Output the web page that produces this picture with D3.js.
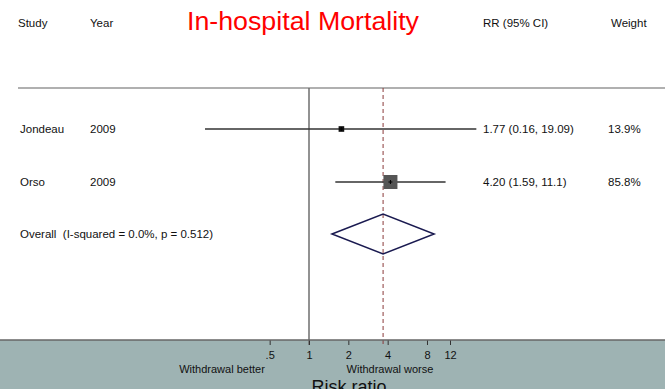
<!DOCTYPE html>
<html>
<head>
<meta charset="utf-8">
<script src="https://cdn.jsdelivr.net/npm/d3@7"></script>
<style>
  body { margin: 0; background: #fff; }
  text { font-family: "Liberation Sans", Arial, sans-serif; white-space: pre; }
</style>
</head>
<body>
<svg id="chart" width="665" height="389"></svg>
<script>
var studies = ["Jondeau", "Orso"];
var years = ["2009", "2009"];
var rr = [1.77, 4.20];
var lower = [0.16, 1.59];
var upper = [19.09, 11.1];
var weights = [13.9, 85.8];
var rrLabels = ["1.77 (0.16, 19.09)", "4.20 (1.59, 11.1)"];
var overall = { rr: 3.69, lower: 1.50, upper: 9.07 };
var overallLabel = "Overall  (I-squared = 0.0%, p = 0.512)";
var tickValues = [0.5, 1, 2, 4, 8, 12];
var tickLabels = [".5", "1", "2", "4", "8", "12"];

var width = 665, height = 389;
var svg = d3.select("#chart");

var x = d3.scaleLog().domain([1, 12]).range([309, 450]);
var rowY = [129, 182, 234];
var plotTop = 88, axisY = 340;
var fs = 11.5;

// bottom band
svg.append("rect")
  .attr("x", 0).attr("y", axisY)
  .attr("width", width).attr("height", height - axisY)
  .attr("fill", "#9eb3b3");

// top rule
svg.append("line")
  .attr("x1", 18).attr("x2", width)
  .attr("y1", plotTop).attr("y2", plotTop)
  .attr("stroke", "#b0b0b0").attr("stroke-width", 2);

// header
var header = [["Study", 18], ["Year", 90], ["RR (95% CI)", 483], ["Weight", 611]];
svg.selectAll(".hdr").data(header).enter().append("text")
  .attr("x", function(d){ return d[1]; })
  .attr("y", 27)
  .attr("font-size", fs)
  .attr("fill", "#111")
  .text(function(d){ return d[0]; });

svg.append("text")
  .attr("x", 187).attr("y", 30)
  .attr("font-size", 26)
  .attr("fill", "#ff0000")
  .attr("textLength", 232)
  .attr("lengthAdjust", "spacingAndGlyphs")
  .text("In-hospital Mortality");

// null line
svg.append("line")
  .attr("x1", x(1)).attr("x2", x(1))
  .attr("y1", plotTop).attr("y2", axisY + 5)
  .attr("stroke", "#6e6e6e").attr("stroke-width", 1.5);

// overall dashed line
svg.append("line")
  .attr("x1", x(overall.rr)).attr("x2", x(overall.rr))
  .attr("y1", plotTop).attr("y2", axisY + 5)
  .attr("stroke", "#8a3a3a").attr("stroke-width", 1)
  .attr("stroke-dasharray", "4,3");

// studies
var rows = svg.selectAll(".row").data(studies).enter().append("g")
  .attr("class", "row");

rows.append("text").attr("x", 20).attr("y", function(d, i){ return rowY[i] + 4; })
  .attr("font-size", fs).attr("fill", "#111").text(function(d){ return d; });
rows.append("text").attr("x", 90).attr("y", function(d, i){ return rowY[i] + 4; })
  .attr("font-size", fs).attr("fill", "#111").text(function(d, i){ return years[i]; });
rows.append("text").attr("x", 483).attr("y", function(d, i){ return rowY[i] + 4; })
  .attr("font-size", fs).attr("fill", "#111").text(function(d, i){ return rrLabels[i]; });
rows.append("text").attr("x", 608).attr("y", function(d, i){ return rowY[i] + 4; })
  .attr("font-size", fs).attr("fill", "#111").text(function(d, i){ return weights[i].toFixed(1) + "%"; });

rows.append("line")
  .attr("x1", function(d, i){ return x(lower[i]); })
  .attr("x2", function(d, i){ return x(upper[i]); })
  .attr("y1", function(d, i){ return rowY[i]; })
  .attr("y2", function(d, i){ return rowY[i]; })
  .attr("stroke", "#333").attr("stroke-width", 1.5);

var boxSize = d3.scaleSqrt().domain([0, 85.8]).range([0, 14]);
rows.append("rect")
  .attr("x", function(d, i){ return x(rr[i]) - Math.max(4, boxSize(weights[i])) / 2; })
  .attr("y", function(d, i){ return rowY[i] - Math.max(4, boxSize(weights[i])) / 2; })
  .attr("width", function(d, i){ return Math.max(4, boxSize(weights[i])); })
  .attr("height", function(d, i){ return Math.max(4, boxSize(weights[i])); })
  .attr("fill", function(d, i){ return i === 0 ? "#111" : "#555"; });

rows.append("path")
  .attr("d", function(d, i){
    var cx = x(rr[i]), cy = rowY[i];
    return "M" + (cx - 2) + "," + cy + "H" + (cx + 2) + "M" + cx + "," + (cy - 2) + "V" + (cy + 2);
  })
  .attr("stroke", "#000").attr("stroke-width", 1);

// overall
svg.append("text").attr("x", 20).attr("y", rowY[2] + 4)
  .attr("font-size", fs).attr("fill", "#111").text(overallLabel);

var oy = rowY[2];
svg.append("path")
  .attr("d", "M" + x(overall.lower) + "," + oy +
    "L" + x(overall.rr) + "," + (oy - 20) +
    "L" + x(overall.upper) + "," + oy +
    "L" + x(overall.rr) + "," + (oy + 20) + "Z")
  .attr("fill", "none").attr("stroke", "#1a1a50").attr("stroke-width", 1.5);

// axis
var axis = d3.axisBottom(x).tickValues(tickValues)
  .tickFormat(function(d, i){ return tickLabels[i]; })
  .tickSize(5).tickPadding(6);
var ax = svg.append("g").attr("transform", "translate(0," + axisY + ")").call(axis);
ax.select(".domain").remove();
ax.selectAll(".tick line").attr("stroke", "#333");
ax.selectAll(".tick text").attr("font-size", 11).attr("fill", "#111")
  .attr("font-family", "Liberation Sans, Arial, sans-serif");
svg.append("line")
  .attr("x1", 0).attr("x2", width).attr("y1", axisY).attr("y2", axisY)
  .attr("stroke", "#666").attr("stroke-width", 1.5);

svg.append("text").attr("x", 222).attr("y", 373).attr("text-anchor", "middle")
  .attr("font-size", 11).attr("fill", "#111").text("Withdrawal better");
svg.append("text").attr("x", 390).attr("y", 373).attr("text-anchor", "middle")
  .attr("font-size", 11).attr("fill", "#111").text("Withdrawal worse");
svg.append("text").attr("x", 349).attr("y", 393).attr("text-anchor", "middle")
  .attr("font-size", 18).attr("fill", "#111").text("Risk ratio");
</script>
</body>
</html>
